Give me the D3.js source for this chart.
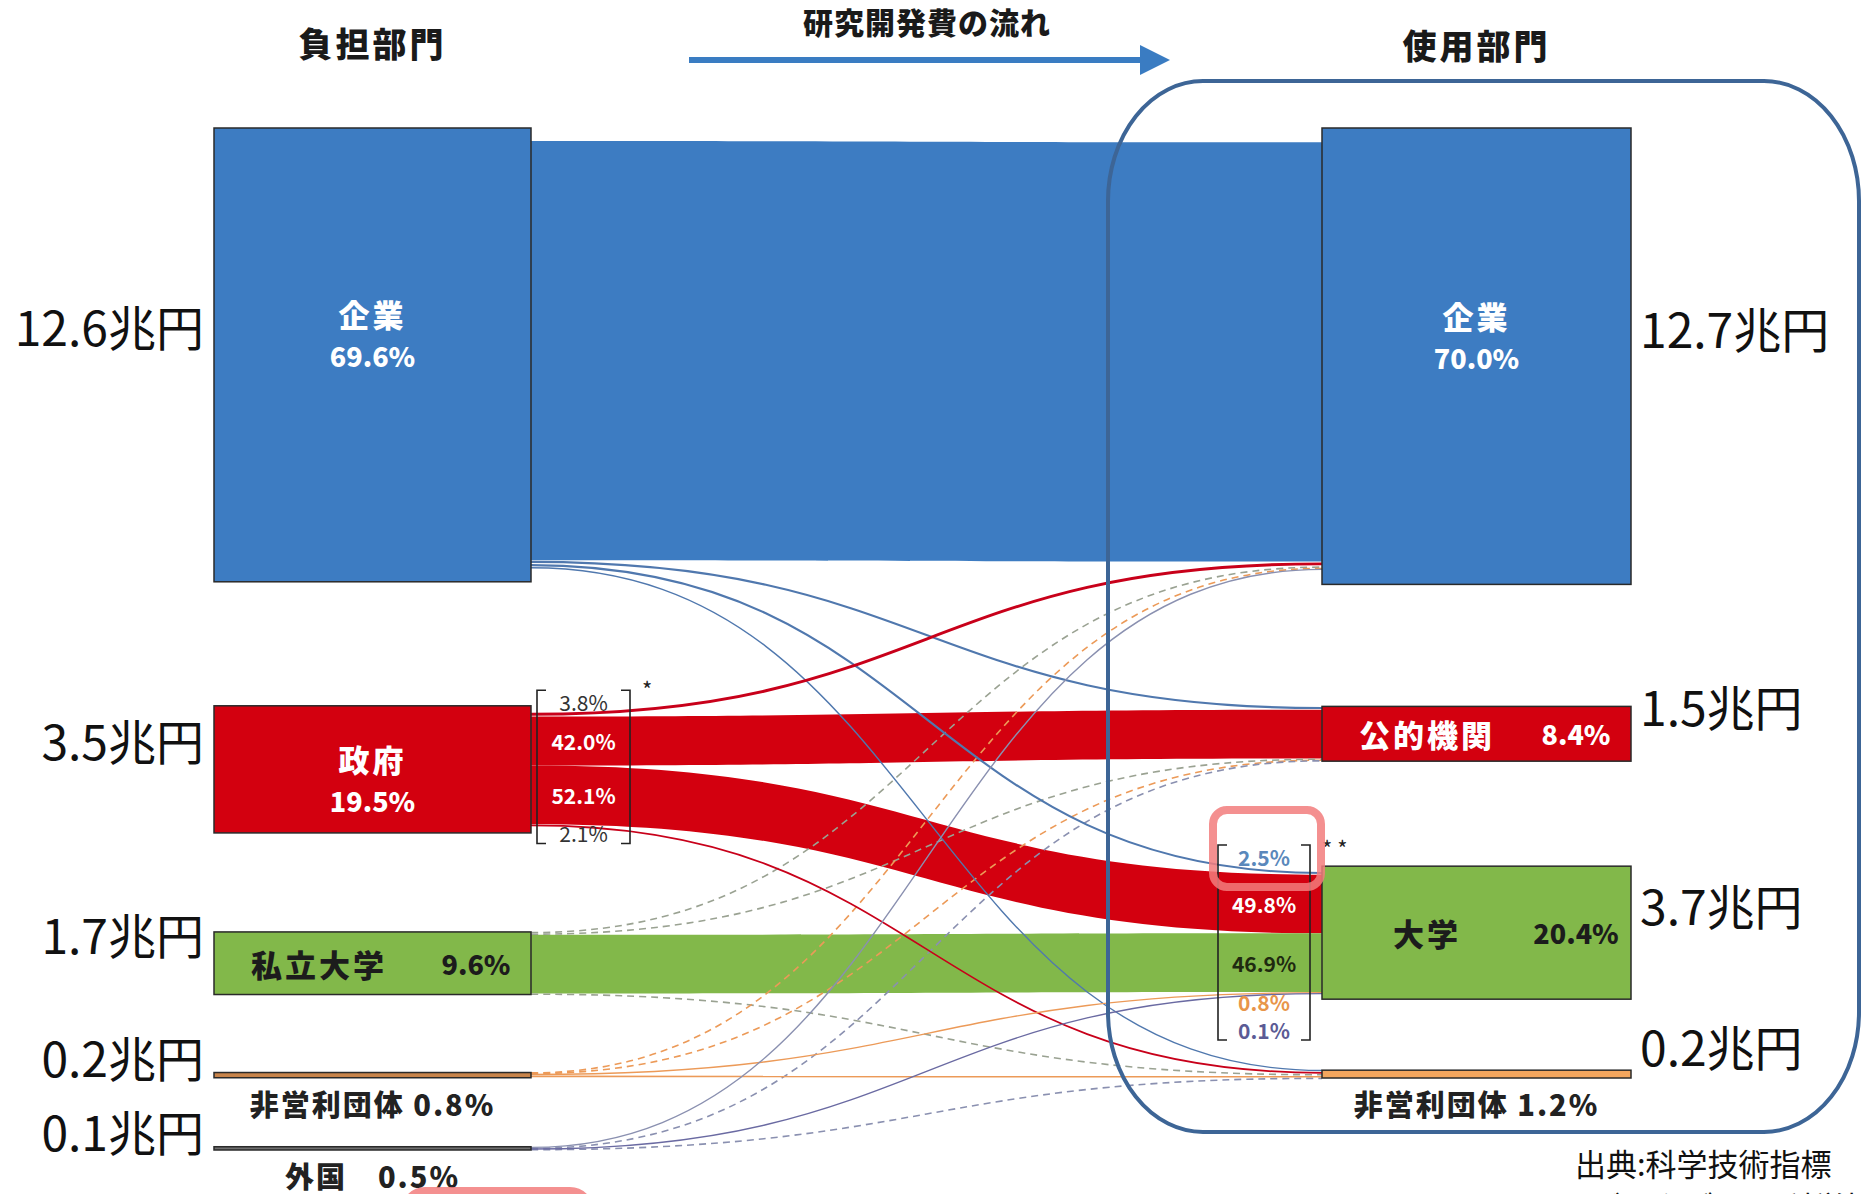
<!DOCTYPE html>
<meta charset="utf-8">
<style>
body { margin: 0; background: #fff; }
text { font-family: "Noto Sans CJK JP", "Noto Sans", sans-serif; }
</style>
<body id="chart"></body>

<script src="https://cdn.jsdelivr.net/npm/d3@7"></script>
<script>
var width = 1863,
    height = 1194;

// 負担部門 (who pays) on the left
var fundNames = ["企業", "政府", "私立大学", "非営利団体", "外国"];
var fundShares = [69.6, 19.5, 9.6, 0.8, 0.5];
var fundAmounts = ["12.6兆円", "3.5兆円", "1.7兆円", "0.2兆円", "0.1兆円"];

// 使用部門 (who spends) on the right
var useNames = ["企業", "公的機関", "大学", "非営利団体"];
var useShares = [70.0, 8.4, 20.4, 1.2];
var useAmounts = ["12.7兆円", "1.5兆円", "3.7兆円", "0.2兆円"];

// flows, in % of the total
var flowFrom  = [0, 0, 0, 0,   1, 1, 1, 1,   2, 2, 2, 2,   3, 3, 3, 3,   4, 4, 4, 4];
var flowTo    = [0, 1, 2, 3,   0, 1, 2, 3,   0, 1, 2, 3,   0, 1, 2, 3,   0, 1, 2, 3];
var flowValue = [64.3, 0.5, 0.5, 0.3,   0.7, 7.5, 9.0, 0.4,   0.3, 0.2, 9.0, 0.2,
                 0.1, 0.1, 0.2, 0.4,   0.2, 0.1, 0.1, 0.1];

// 政府 split over the use sectors, and 大学 split over the funders
var govSplit = ["3.8%", "42.0%", "52.1%", "2.1%"];
var univSplit = ["2.5%", "49.8%", "46.9%", "0.8%", "0.1%"];

//layout
var y = d3.scaleLinear().domain([0, 100]).range([0, 652]);
var fundX = [214, 531], useX = [1322, 1631];
var fundGap = [124, 99, 78, 69], useGap = [122, 105, 71];
var fundLabel = ["stack", "stack", "row", "below", "below"];
var useLabel = ["stack", "row", "row", "below"];
var stackDy = {"企業": -20, "政府": 10};

var fundFill = ["#3d7cc2", "#d3000f", "#82b84a", "#c8844a", "#707070"];
var useFill = ["#3d7cc2", "#d3000f", "#82b84a", "#f3a65e"];
var lineColor = ["#5078ae", "#c8001a", "#9aa292", "#ec9a58", "#8a90b0"];
var dashed = {"2-0": 1, "2-1": 1, "2-3": 1, "3-0": 1, "3-1": 1, "4-1": 1, "4-3": 1};

function column(shares, top, gaps, x) {
    var yy = top;
    return shares.map(function (s, i) {
        var n = {x0: x[0], x1: x[1], y0: yy, y1: yy + y(s), value: s};
        yy = n.y1 + (gaps[i] || 0);
        return n;
    });
}
var fund = column(fundShares, 128, fundGap, fundX);
var use = column(useShares, 128, useGap, useX);

var links = flowValue.map(function (v, i) {
    return {s: flowFrom[i], t: flowTo[i], v: v, key: flowFrom[i] + "-" + flowTo[i]};
});

//stack flows inside each node, centred on the node
fund.forEach(function (n, i) {
    var out = links.filter(function (l) { return l.s === i; });
    var yy = (n.y0 + n.y1) / 2 - d3.sum(out, function (l) { return y(l.v); }) / 2;
    out.forEach(function (l) { l.sy0 = yy; yy += y(l.v); l.sy1 = yy; });
});
use.forEach(function (n, j) {
    var inn = links.filter(function (l) { return l.t === j; });
    var yy = (n.y0 + n.y1) / 2 - d3.sum(inn, function (l) { return y(l.v); }) / 2;
    inn.forEach(function (l) { l.ty0 = yy; yy += y(l.v); l.ty1 = yy; });
});

var svg = d3.select("#chart").append("svg")
    .attr("width", width)
    .attr("height", height);

var x0 = fundX[1], x1 = useX[0], xm = (x0 + x1) / 2;

function bandPath(l) {
    return "M" + x0 + "," + l.sy0 + "C" + xm + "," + l.sy0 + " " + xm + "," + l.ty0 + " " + x1 + "," + l.ty0 +
        "L" + x1 + "," + l.ty1 + "C" + xm + "," + l.ty1 + " " + xm + "," + l.sy1 + " " + x0 + "," + l.sy1 + "Z";
}
function linePath(l) {
    var a = (l.sy0 + l.sy1) / 2, b = (l.ty0 + l.ty1) / 2;
    return "M" + x0 + "," + a + "C" + xm + "," + a + " " + xm + "," + b + " " + x1 + "," + b;
}

var bands = links.filter(function (l) { return l.v >= 2; });
var thin = links.filter(function (l) { return l.v < 2; });

svg.append("g").selectAll("path")
    .data(bands)
    .enter().append("path")
    .attr("d", bandPath)
    .attr("fill", function (l) { return fundFill[l.s]; });

svg.append("g").selectAll("path")
    .data(thin.filter(function (l) { return dashed[l.key]; }).concat(thin.filter(function (l) { return !dashed[l.key]; })))
    .enter().append("path")
    .attr("d", linePath)
    .attr("fill", "none")
    .attr("stroke", function (l) { return l.s === 4 && l.t === 2 ? "#6a6aa2" : lineColor[l.s]; })
    .attr("stroke-width", function (l) { return dashed[l.key] ? 1.6 : Math.max(1.4, y(l.v) * 0.65); })
    .attr("stroke-dasharray", function (l) { return dashed[l.key] ? "7,5" : null; });

//node boxes
function drawNodes(nodes, fills) {
    svg.append("g").selectAll("rect")
        .data(nodes)
        .enter().append("rect")
        .attr("x", function (d) { return d.x0; })
        .attr("y", function (d) { return d.y0; })
        .attr("width", function (d) { return d.x1 - d.x0; })
        .attr("height", function (d) { return d.y1 - d.y0; })
        .attr("fill", function (d, i) { return fills[i]; })
        .attr("stroke", "#2a2a2a")
        .attr("stroke-width", 1.5);
}
drawNodes(fund, fundFill);
drawNodes(use, useFill);

//labels inside / under the boxes
function nodeLabels(nodes, names, styles, fills) {
    var g = svg.append("g")
        .attr("font-weight", 900)
        .attr("dominant-baseline", "central");
    nodes.forEach(function (n, i) {
        var cx = (n.x0 + n.x1) / 2, cy = (n.y0 + n.y1) / 2;
        var pct = n.value.toFixed(1) + "%";
        var col = fills[i] === "#82b84a" ? "#1c1c1c" : "#fff";
        if (styles[i] === "stack") {
            var dy = stackDy[names[i]] || 0;
            g.append("text").attr("x", cx).attr("y", cy + dy - 21).attr("text-anchor", "middle")
                .attr("font-size", 31).attr("letter-spacing", 3).attr("fill", col).text(names[i]);
            g.append("text").attr("x", cx).attr("y", cy + dy + 21).attr("text-anchor", "middle")
                .attr("font-size", 27).attr("fill", col).text(pct);
        } else if (styles[i] === "row") {
            g.append("text").attr("x", n.x0 + 105).attr("y", cy).attr("text-anchor", "middle")
                .attr("font-size", 31).attr("letter-spacing", 3).attr("fill", col).text(names[i]);
            g.append("text").attr("x", n.x1 - 55).attr("y", cy).attr("text-anchor", "middle")
                .attr("font-size", 27).attr("fill", col).text(pct);
        } else {
            g.append("text").attr("x", cx).attr("y", n.y1 + 25).attr("text-anchor", "middle")
                .attr("font-size", 29).attr("letter-spacing", 2).attr("fill", "#222")
                .text(names[i] + (names[i].length < 3 ? "\u3000" : " ") + pct);
        }
    });
}
nodeLabels(fund, fundNames, fundLabel, fundFill);
nodeLabels(use, useNames, useLabel, useFill);

//amounts beside the boxes
var amt = svg.append("g")
    .attr("font-size", 48)
    .attr("fill", "#111")
    .attr("dominant-baseline", "central");
fund.forEach(function (n, i) {
    var thinNode = n.y1 - n.y0 < 10;
    amt.append("text")
        .attr("x", n.x0 - 10)
        .attr("y", thinNode ? n.y0 - 17 : (n.y0 + n.y1) / 2 - 30)
        .attr("text-anchor", "end")
        .text(fundAmounts[i]);
});
use.forEach(function (n, i) {
    amt.append("text")
        .attr("x", n.x1 + 9)
        .attr("y", (n.y0 + n.y1) / 2 - 29)
        .text(useAmounts[i]);
});

//brackets with split percentages
function bracket(bx0, bx1, labels, spots, colors, weights) {
    var g = svg.append("g");
    var top = spots[0] - 12, bot = spots[spots.length - 1] + 10, t = 9;
    g.append("path")
        .attr("d", "M" + (bx0 + t) + "," + top + "H" + bx0 + "V" + bot + "H" + (bx0 + t) +
            "M" + (bx1 - t) + "," + top + "H" + bx1 + "V" + bot + "H" + (bx1 - t))
        .attr("fill", "none")
        .attr("stroke", "#222")
        .attr("stroke-width", 1.6);
    g.selectAll("text")
        .data(labels)
        .enter().append("text")
        .attr("x", (bx0 + bx1) / 2)
        .attr("y", function (d, i) { return spots[i]; })
        .attr("text-anchor", "middle")
        .attr("dominant-baseline", "central")
        .attr("font-family", "'Liberation Sans Narrow', 'Liberation Sans', sans-serif")
        .attr("font-size", 21)
        .attr("font-weight", function (d, i) { return weights[i]; })
        .attr("fill", function (d, i) { return colors[i]; })
        .text(function (d) { return d; });
    return {top: top, bot: bot};
}

var govLinks = links.filter(function (l) { return l.s === 1; });
var govSpots = govLinks.map(function (l, i) {
    var c = (l.sy0 + l.sy1) / 2;
    if (l.v >= 2) return c;
    return i === 0 ? c - 12 : c + 8;
});
var gb = bracket(537, 630, govSplit, govSpots, ["#333", "#fff", "#fff", "#333"], [400, 700, 700, 400]);
svg.append("text").attr("x", 642).attr("y", gb.top + 8).attr("font-size", 22)
    .attr("fill", "#222").attr("font-family", "'Liberation Sans', sans-serif").text("*");

var univLinks = links.filter(function (l) { return l.t === 2; });
var lastBand = d3.max(univLinks.filter(function (l) { return l.v >= 2; }), function (l) { return l.ty1; });
var below = 0;
var univSpots = univLinks.map(function (l, i) {
    if (l.v >= 2) return (l.ty0 + l.ty1) / 2;
    if (i === 0) return (l.ty0 + l.ty1) / 2 - 16;
    return lastBand + 10 + 28 * (below++);
});
var ub = bracket(1218, 1310, univSplit, univSpots, ["#5a88bb", "#fff", "#1f2a10", "#e8954a", "#5b5b95"],
    [700, 700, 700, 700, 700]);
svg.append("text").attr("x", 1322).attr("y", ub.top + 12).attr("font-size", 22)
    .attr("fill", "#222").attr("font-family", "'Liberation Sans', sans-serif").text("* *");

//headers and arrow
var head = svg.append("g")
    .attr("font-weight", 900)
    .attr("fill", "#1a1a1a")
    .attr("text-anchor", "middle")
    .attr("dominant-baseline", "central");
head.append("text").attr("x", (fundX[0] + fundX[1]) / 2).attr("y", 42)
    .attr("font-size", 34).attr("letter-spacing", 3).text("負担部門");
head.append("text").attr("x", (useX[0] + useX[1]) / 2).attr("y", 44)
    .attr("font-size", 34).attr("letter-spacing", 3).text("使用部門");
head.append("text").attr("x", 927).attr("y", 21)
    .attr("font-size", 30).attr("letter-spacing", 1).text("研究開発費の流れ");

svg.append("line")
    .attr("x1", 689).attr("x2", 1142).attr("y1", 60).attr("y2", 60)
    .attr("stroke", "#3a7cc2").attr("stroke-width", 6);
svg.append("path")
    .attr("d", "M1140,45L1170,60L1140,75Z")
    .attr("fill", "#3a7cc2");

//rounded frame round the use side
svg.append("rect")
    .attr("x", 1108).attr("y", 81)
    .attr("width", 751).attr("height", 1051)
    .attr("rx", 95).attr("ry", 120)
    .attr("fill", "none")
    .attr("stroke", "#3d6596")
    .attr("stroke-width", 4);

//red highlight marks
svg.append("rect")
    .attr("x", 1213).attr("y", univSpots[0] - 47)
    .attr("width", 108).attr("height", 77)
    .attr("rx", 14)
    .attr("fill", "none")
    .attr("stroke", "#f27c7c")
    .attr("stroke-opacity", 0.85)
    .attr("stroke-width", 8);
svg.append("rect")
    .attr("x", 405).attr("y", fund[4].y1 + 41)
    .attr("width", 185).attr("height", 80)
    .attr("rx", 20)
    .attr("fill", "none")
    .attr("stroke", "#f27c7c")
    .attr("stroke-opacity", 0.85)
    .attr("stroke-width", 8);

//source
svg.append("text")
    .attr("x", 1575).attr("y", 1162)
    .attr("font-size", 31)
    .attr("fill", "#111")
    .attr("dominant-baseline", "central")
    .text("出典:科学技術指標");
svg.append("text")
    .attr("x", 1590).attr("y", 1205)
    .attr("font-size", 31)
    .attr("fill", "#111")
    .attr("dominant-baseline", "central")
    .text("データブック 科学技術・学術政策研究所");
</script>
